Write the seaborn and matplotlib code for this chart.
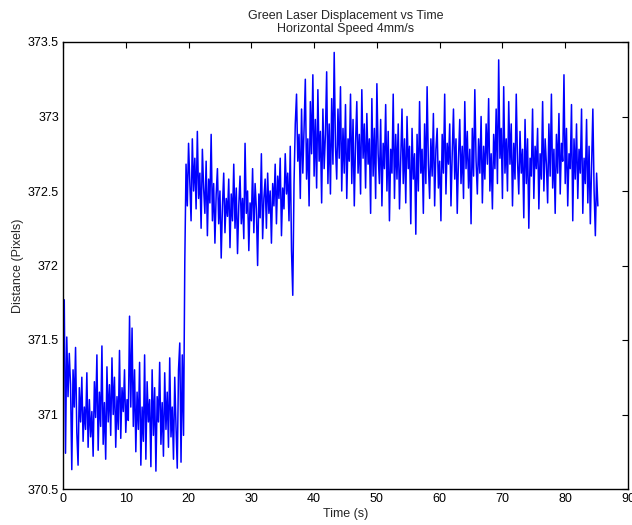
import numpy as np
import pandas as pd
import matplotlib
matplotlib.use("Agg")
import matplotlib.pyplot as plt
import seaborn as sns
from matplotlib.ticker import FormatStrFormatter

# Sampling interval of the camera tracking (s)
dt = 0.2

# Laser spot position before the stage starts moving (0 - 19.2 s)
resting = [
    371.35, 371.77, 370.74, 371.52, 371.12, 371.41, 371.20, 370.63, 371.30, 371.05,
    371.45, 370.88, 370.66, 371.18, 370.95, 371.25, 370.82, 371.05, 370.90, 371.28,
    370.78, 371.10, 370.85, 371.02, 370.72, 371.22, 370.98, 371.40, 370.76, 371.15,
    370.92, 371.46, 370.80, 371.08, 370.70, 371.32, 370.95, 371.20, 370.86, 371.38,
    371.00, 371.25, 370.78, 371.12, 370.90, 371.43, 370.84, 371.18, 371.02, 371.30,
    370.88, 371.10, 370.96, 371.66, 371.05, 371.58, 370.92, 371.30, 370.75, 371.15,
    370.90, 371.35, 370.66, 371.05, 370.82, 371.40, 370.70, 371.22, 370.95, 371.10,
    370.65, 371.30, 370.86, 371.18, 370.62, 371.12, 370.95, 371.35, 370.80, 371.08,
    370.72, 371.28, 370.90, 371.15, 370.78, 371.38, 370.85, 371.05, 370.70, 371.25,
    370.92, 370.64, 371.30, 371.48, 370.68, 371.40, 370.86,
]

# First displaced level (19.4 - 36.6 s)
first_step = [
    372.02, 372.68, 372.40, 372.82, 372.55, 372.30, 372.85, 372.50, 372.72, 372.38,
    372.90, 372.45, 372.62, 372.25, 372.78, 372.52, 372.35, 372.70, 372.20, 372.58,
    372.42, 372.88, 372.30, 372.55, 372.15, 372.48, 372.65, 372.28, 372.50, 372.05,
    372.40, 372.62, 372.22, 372.45, 372.33, 372.58, 372.12, 372.48, 372.30, 372.68,
    372.25, 372.52, 372.08, 372.40, 372.60, 372.28, 372.45, 372.18, 372.82, 372.35,
    372.50, 372.10, 372.42, 372.30, 372.65, 372.22, 372.55, 372.38, 372.00, 372.48,
    372.32, 372.75, 372.18, 372.45, 372.58, 372.25, 372.62, 372.35, 372.50, 372.15,
    372.55, 372.40, 372.68, 372.28, 372.60, 372.45, 372.72, 372.20, 372.52, 372.38,
    372.75, 372.48, 372.62, 372.30, 372.80, 372.10, 371.80,
]

# Second displaced level (36.8 - 85.2 s)
second_step = [
    372.55, 372.95, 373.15, 372.70, 372.88, 372.45, 373.05, 372.62, 372.92, 373.25,
    372.58, 372.85, 372.40, 373.10, 372.75, 373.28, 372.60, 372.98, 372.52, 373.18,
    372.70, 372.90, 372.42, 373.05, 372.65, 372.88, 373.30, 372.55, 372.95, 372.48,
    373.12, 372.68, 373.43, 372.80, 372.58, 373.05, 372.72, 373.20, 372.50, 372.92,
    372.62, 373.08, 372.45, 372.85, 372.70, 373.15, 372.55, 372.98, 372.40, 372.82,
    373.10, 372.62, 372.88, 372.48, 373.18, 372.72, 372.95, 372.52, 373.02, 372.68,
    372.85, 372.35, 373.12, 372.60, 372.92, 372.45, 373.22, 372.75, 372.55, 372.98,
    372.40, 372.82, 372.65, 373.08, 372.50, 372.90, 372.30, 372.78, 372.62, 373.15,
    372.45, 372.88, 372.58, 372.95, 372.38, 372.72, 373.05, 372.55, 372.85, 372.42,
    373.00, 372.65, 372.80, 372.28, 372.92, 372.58, 372.75, 372.21, 372.88, 372.50,
    373.10, 372.62, 372.78, 372.35, 372.95, 372.55, 373.20, 372.68, 372.45, 372.85,
    372.60, 373.02, 372.40, 372.78, 372.92, 372.52, 372.70, 372.30, 372.88, 372.62,
    373.15, 372.48, 372.82, 372.68, 372.95, 372.40, 372.75, 373.05, 372.58, 372.85,
    372.35, 372.72, 372.98, 372.55, 372.80, 372.45, 373.10, 372.65, 372.90, 372.52,
    372.78, 372.28, 372.92, 372.60, 373.18, 372.70, 372.48, 372.85, 372.62, 373.00,
    372.42, 372.80, 372.58, 372.95, 372.68, 373.12, 372.50, 372.75, 372.38, 372.88,
    372.65, 373.05, 372.55, 373.38, 372.72, 372.92, 372.45, 373.20, 372.62, 372.85,
    372.50, 373.10, 372.68, 372.95, 372.40, 372.82, 372.58, 373.15, 372.70, 372.48,
    372.90, 372.62, 372.78, 372.32, 372.98, 372.55, 372.85, 372.25, 372.72, 372.60,
    373.05, 372.45, 372.80, 372.65, 372.92, 372.38, 372.75, 372.58, 373.10, 372.50,
    372.85, 372.68, 372.42, 372.95, 372.60, 373.15, 372.52, 372.78, 372.35, 372.88,
    372.62, 373.02, 372.48, 372.82, 372.70, 373.28, 372.55, 372.92, 372.40, 372.75,
    372.65, 373.08, 372.30, 372.85, 372.58, 372.95, 372.45, 372.78, 372.62, 373.05,
    372.35, 372.72, 372.55, 372.98, 372.42, 372.80, 372.28, 372.68, 373.05, 372.50,
    372.20, 372.62, 372.40,
]

x_ticks = [0, 10, 20, 30, 40, 50, 60, 70, 80, 90]
y_ticks = [370.5, 371.0, 371.5, 372.0, 372.5, 373.0, 373.5]

distance = resting + first_step + second_step
df = pd.DataFrame({
    "time": np.arange(len(distance)) * dt,
    "distance": distance,
})

sns.set_style("white")
plt.rcParams["font.family"] = ["Liberation Sans", "DejaVu Sans"]
plt.rcParams.update({
    "xtick.direction": "in",
    "ytick.direction": "in",
    "xtick.top": True,
    "ytick.right": True,
    "xtick.major.size": 4,
    "ytick.major.size": 4,
    "xtick.major.width": 0.8,
    "ytick.major.width": 0.8,
    "xtick.color": "black",
    "ytick.color": "black",
    "axes.edgecolor": "black",
    "axes.linewidth": 1.0,
})

fig = plt.figure(figsize=(6.32, 5.25), dpi=100)
ax = fig.add_axes([63 / 632, 1 - 489 / 525, (628 - 63) / 632, (489 - 42) / 525])

sns.lineplot(data=df, x="time", y="distance", ax=ax, color="#0000ff",
             linewidth=1.1, estimator=None, sort=False)

ax.set_xlim(0, 90)
ax.set_ylim(370.5, 373.5)
ax.set_xticks(x_ticks)
ax.set_yticks(y_ticks)
ax.yaxis.set_major_formatter(FormatStrFormatter("%g"))
ax.tick_params(labelsize=9, pad=3)

ax.set_xlabel("Time (s)", fontsize=9, labelpad=2)
ax.set_ylabel("Distance (Pixels)", fontsize=9, labelpad=3)
ax.set_title("Green Laser Displacement vs Time\nHorizontal Speed 4mm/s",
             fontsize=9, pad=7, linespacing=1.15)

for side in ax.spines.values():
    side.set_visible(True)
    side.set_color("black")

fig.savefig("out.png", dpi=100, facecolor="white")
